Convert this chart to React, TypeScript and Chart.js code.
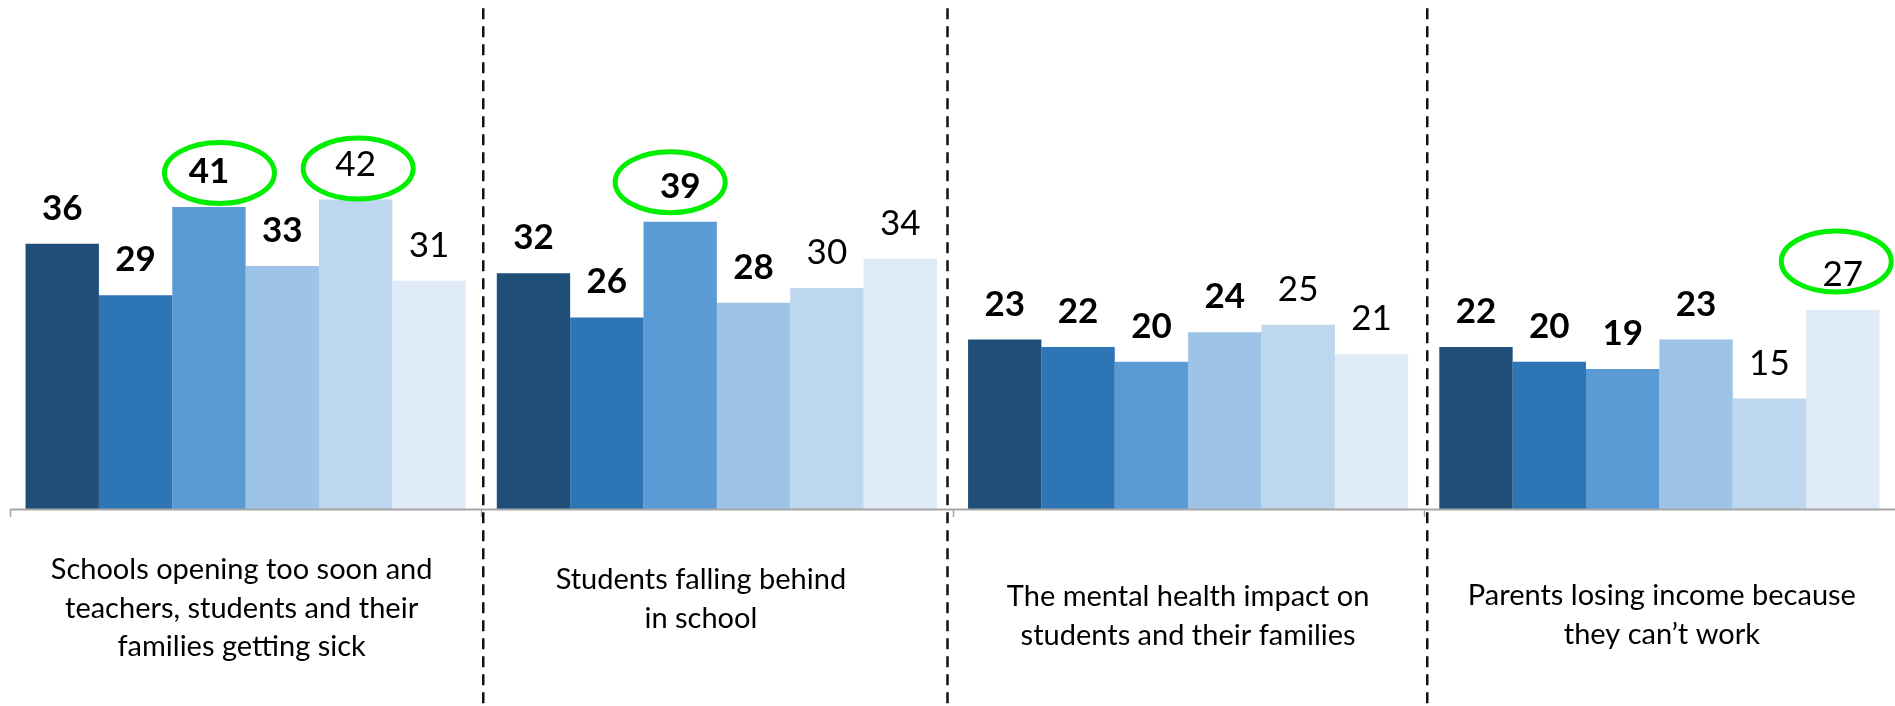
import React, { useEffect, useRef } from "react";
import { Chart, registerables } from "chart.js";

Chart.register(...registerables);

// ---- Data ----
const categoryLabels: string[][] = [
  ["Schools opening too soon and", "teachers, students and their", "families getting sick"],
  ["Students falling behind", "in school"],
  ["The mental health impact on", "students and their families"],
  ["Parents losing income because", "they can\u2019t work"],
];
const series1 = [36, 32, 23, 22];
const series2 = [29, 26, 22, 20];
const series3 = [41, 39, 20, 19];
const series4 = [33, 28, 24, 23];
const series5 = [42, 30, 25, 15];
const series6 = [31, 34, 21, 27];
const seriesNames = ["Group 1", "Group 2", "Group 3", "Group 4", "Group 5", "Group 6"];

// ---- Styling / layout ----
const seriesColors = ["#1F4E79", "#2E75B6", "#5B9BD5", "#9DC3E6", "#BDD7EE", "#DEEBF7"];
const boldSeries = [true, true, true, true, false, false];
// highlighted value circles: category index, series index, offset of ellipse from label
const highlights = [
  { category: 0, series: 2, dx: 10.5, dy: 3 },
  { category: 0, series: 4, dx: 2.5, dy: 6 },
  { category: 1, series: 2, dx: -10, dy: -2.5 },
  { category: 3, series: 5, dx: -6.5, dy: -11.5 },
];
const labelBaselineOffsets = [70, 80, 97, 96]; // below axis
const labelXShift = [-4, -16, 0, 2.5];
const dividerShift = [2, -5, 3.5];
const Y_MAX = 60;

const FONT = "Lato, 'Open Sans', sans-serif";

const overlayPlugin = {
  id: "overlay",
  afterDatasetsDraw(chart: any) {
    const { ctx, chartArea } = chart;
    const xScale = chart.scales.x;
    const n = categoryLabels.length;
    const catW = (chartArea.right - chartArea.left) / n;
    const bottom = chartArea.bottom;
    const W = chart.width;
    const H = chart.height;

    ctx.save();
    // axis line
    ctx.strokeStyle = "#A6A6A6";
    ctx.lineWidth = 2;
    ctx.beginPath();
    ctx.moveTo(chartArea.left, bottom + 0.5);
    ctx.lineTo(W, bottom + 0.5);
    ctx.stroke();
    // tick marks
    ctx.lineWidth = 1.5;
    for (let i = 0; i < n; i++) {
      const x = Math.round(chartArea.left + i * catW) + 0.5;
      ctx.beginPath();
      ctx.moveTo(x, bottom);
      ctx.lineTo(x, bottom + 8);
      ctx.stroke();
    }
    // dashed dividers
    ctx.strokeStyle = "#111111";
    ctx.lineWidth = 2.5;
    ctx.setLineDash([11, 7]);
    for (let i = 1; i < n; i++) {
      const x = chartArea.left + i * catW + dividerShift[i - 1];
      ctx.beginPath();
      ctx.moveTo(x, 8.3);
      ctx.lineTo(x, H);
      ctx.stroke();
    }
    ctx.setLineDash([]);

    // data labels
    ctx.fillStyle = "#000000";
    ctx.textAlign = "center";
    ctx.textBaseline = "alphabetic";
    const labelCenters: Record<string, { x: number; y: number }> = {};
    chart.data.datasets.forEach((ds: any, di: number) => {
      const meta = chart.getDatasetMeta(di);
      ctx.font = `${boldSeries[di] ? "700" : "400"} 35px ${FONT}`;
      meta.data.forEach((bar: any, ci: number) => {
        const v = ds.data[ci];
        ctx.fillText(String(v), bar.x, bar.y - 24);
        labelCenters[`${ci}-${di}`] = { x: bar.x, y: bar.y - 37 };
      });
    });

    // highlight ellipses
    ctx.strokeStyle = "#00EE00";
    ctx.lineWidth = 5;
    highlights.forEach((h) => {
      const c = labelCenters[`${h.category}-${h.series}`];
      if (!c) return;
      ctx.beginPath();
      ctx.ellipse(c.x + h.dx, c.y + h.dy, 55, 30.5, 0, 0, Math.PI * 2);
      ctx.stroke();
    });

    // category labels
    ctx.fillStyle = "#000000";
    ctx.font = `400 29px ${FONT}`;
    categoryLabels.forEach((lines, i) => {
      const cx = xScale.getPixelForValue(i) + labelXShift[i];
      lines.forEach((line, li) => {
        ctx.fillText(line, cx, bottom + labelBaselineOffsets[i] + li * 38.5);
      });
    });
    ctx.restore();
  },
};

export default function App() {
  const canvasRef = useRef<HTMLCanvasElement | null>(null);

  useEffect(() => {
    if (!canvasRef.current) return;
    const allSeries = [series1, series2, series3, series4, series5, series6];
    const chart = new Chart(canvasRef.current, {
      type: "bar",
      data: {
        labels: categoryLabels.map((l) => l.join(" ")),
        datasets: allSeries.map((d, i) => ({
          label: seriesNames[i],
          data: d,
          backgroundColor: seriesColors[i],
          borderWidth: 0,
          categoryPercentage: 0.934,
          barPercentage: 1.0,
        })),
      },
      options: {
        responsive: false,
        animation: false,
        layout: { padding: { left: 10, right: 0, top: 67, bottom: 197 } },
        plugins: {
          legend: { display: false },
          tooltip: { enabled: false },
        },
        scales: {
          x: { display: false },
          y: { display: false, min: 0, max: Y_MAX },
        },
      },
      plugins: [overlayPlugin],
    });
    return () => chart.destroy();
  }, []);

  return (
    <div style={{ position: "fixed", left: 0, top: 0, width: 1895, height: 706, background: "#ffffff" }}>
      <canvas ref={canvasRef} width={1895} height={706} style={{ display: "block" }} />
    </div>
  );
}
